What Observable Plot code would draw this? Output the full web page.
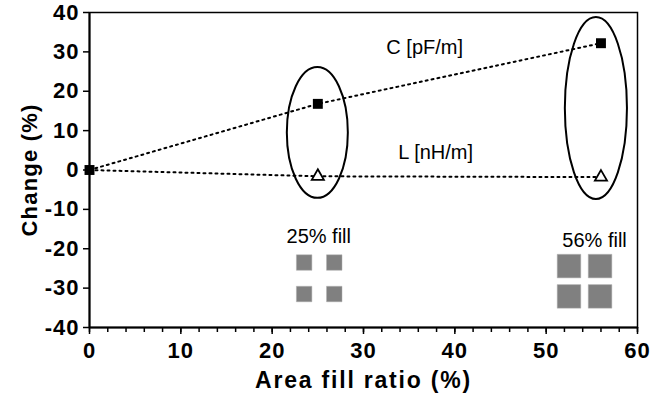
<!DOCTYPE html>
<html>
<head>
<meta charset="utf-8">
<script src="https://cdn.jsdelivr.net/npm/d3@7"></script>
<script src="https://cdn.jsdelivr.net/npm/@observablehq/plot@0.6"></script>
<style>
  html, body { margin: 0; padding: 0; background: #fff; }
  svg { font-family: "Liberation Sans", Arial, sans-serif; }
</style>
</head>
<body>
<div id="chart"></div>
<script>
// ---- data ----
const fillRatio = [0, 25, 56];
const capChange = [0, 16.8, 32.2];
const indChange = [0, -1.6, -1.8];

const xTicks = [0, 10, 20, 30, 40, 50, 60];
const xMinorTicks = [0, 2, 4, 6, 8, 10, 12, 14, 16, 18, 20, 22, 24, 26, 28, 30, 32, 34, 36, 38, 40, 42, 44, 46, 48, 50, 52, 54, 56, 58, 60];
const yTicks = [-40, -30, -20, -10, 0, 10, 20, 30, 40];

// ellipses grouping points
const ellipseCx = [25.0, 55.5];
const ellipseCy = [9.4, 15.6];
const ellipseRx = [3.34, 3.4];
const ellipseRy = [16.6, 23.1];

// fill pattern icons
const smallSqX = [23.5, 26.8, 23.5, 26.8];
const smallSqY = [-23.5, -23.5, -31.5, -31.5];
const bigSqX = [52.5, 55.9, 52.5, 55.9];
const bigSqY = [-24.4, -24.4, -32.1, -32.1];

const labels = ["C [pF/m]", "L [nH/m]", "25% fill", "56% fill"];
const labelX = [36.7, 37.9, 25.1, 55.3];
const labelY = [31.2, 4.4, -16.9, -17.9];

const cData = fillRatio.map((x, i) => ({x, y: capChange[i]}));
const lData = fillRatio.map((x, i) => ({x, y: indChange[i]}));
const ellipses = ellipseCx.map((cx, i) => ({cx, cy: ellipseCy[i], rx: ellipseRx[i], ry: ellipseRy[i]}));
const smallSq = smallSqX.map((x, i) => ({x, y: smallSqY[i]}));
const bigSq = bigSqX.map((x, i) => ({x, y: bigSqY[i]}));
const textData = labels.map((t, i) => ({t, x: labelX[i], y: labelY[i]}));

const hyphenFormat = d => (d < 0 ? "-" + Math.abs(d) : String(d));

const ellipseMark = (index, scales) => {
  const g = d3.create("svg:g");
  for (const e of ellipses) {
    const cx = scales.x(e.cx), cy = scales.y(e.cy);
    const rx = Math.abs(scales.x(e.cx + e.rx) - cx);
    const ry = Math.abs(scales.y(e.cy + e.ry) - cy);
    g.append("ellipse")
      .attr("cx", cx).attr("cy", cy).attr("rx", rx).attr("ry", ry)
      .attr("fill", "none").attr("stroke", "black").attr("stroke-width", 2);
  }
  return g.node();
};

const chart = Plot.plot({
  width: 663,
  height: 397,
  marginLeft: 89,
  marginRight: 26,
  marginTop: 12,
  marginBottom: 70,
  style: {fontFamily: "'Liberation Sans', Arial, sans-serif", background: "#fff"},
  x: {domain: [0, 60]},
  y: {domain: [-40, 40]},
  marks: [
    Plot.frame({stroke: "black", strokeWidth: 1.5}),
    Plot.axisX({ticks: xMinorTicks, tickSize: 5, text: null, label: null, strokeWidth: 1.5}),
    Plot.axisX({ticks: xTicks, tickSize: 7, tickPadding: 8, fontSize: 22, fontWeight: "bold", tickFormat: hyphenFormat,
      label: "Area fill ratio (%)", labelAnchor: "center", labelArrow: "none", labelOffset: 60, strokeWidth: 1.5}),
    Plot.axisY({ticks: yTicks, tickSize: 6, tickPadding: 4, fontSize: 22, fontWeight: "bold", tickFormat: hyphenFormat,
      label: "Change (%)", labelAnchor: "center", labelArrow: "none", labelOffset: 68, strokeWidth: 1.5}),
    Plot.ruleX([0], {stroke: "black", strokeWidth: 2}),
    Plot.ruleY([-40], {stroke: "black", strokeWidth: 2}),
    Plot.line(cData, {x: "x", y: "y", stroke: "black", strokeWidth: 2, strokeDasharray: "2,4"}),
    Plot.line(lData, {x: "x", y: "y", stroke: "black", strokeWidth: 2, strokeDasharray: "2,4"}),
    ellipseMark,
    Plot.dot(cData, {x: "x", y: "y", symbol: "square", r: 5.6, fill: "black", stroke: "none"}),
    Plot.dot(lData.slice(1), {x: "x", y: "y", symbol: "triangle", r: 4.5, fill: "white", stroke: "black", strokeWidth: 1.8}),
    Plot.dot(smallSq, {x: "x", y: "y", symbol: "square", r: 8.75, fill: "#808080", stroke: "#b0b0b0", strokeWidth: 0.5}),
    Plot.dot(bigSq, {x: "x", y: "y", symbol: "square", r: 13.3, fill: "#808080", stroke: "#b0b0b0", strokeWidth: 0.5}),
    Plot.text(textData, {x: "x", y: "y", text: "t", fontSize: 20, fill: "black"})
  ]
});
chart.querySelectorAll("[aria-label='y-axis label'] text").forEach(t => {
  t.setAttribute("font-weight", "bold");
  t.setAttribute("font-size", "22");
  t.setAttribute("letter-spacing", "1.2");
});
chart.querySelectorAll("[aria-label='x-axis label'] text").forEach(t => {
  t.setAttribute("font-weight", "bold");
  t.setAttribute("font-size", "23");
  t.setAttribute("letter-spacing", "1.8");
});
chart.querySelectorAll("[aria-label='y-axis tick label'], [aria-label='x-axis tick label']").forEach(g => {
  g.setAttribute("font-size", "22");
  g.setAttribute("font-weight", "bold");
  g.querySelectorAll("text").forEach(t => t.setAttribute("letter-spacing", "1"));
});
document.getElementById("chart").appendChild(chart);
</script>
</body>
</html>
